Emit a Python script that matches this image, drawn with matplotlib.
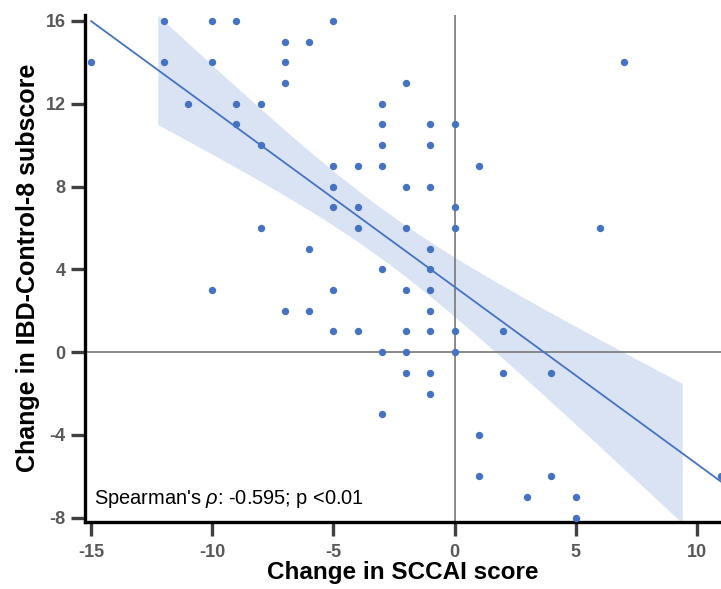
import numpy as np
import matplotlib.pyplot as plt

plt.rcParams['font.family'] = 'Liberation Sans'
plt.rcParams['mathtext.fontset'] = 'custom'
plt.rcParams['mathtext.it'] = 'Liberation Sans:italic'
plt.rcParams['axes.unicode_minus'] = False

# change in SCCAI score (x) and change in IBD-Control-8 subscore (y)
sccai = [-15, -12, -12, -11, -10, -10, -10, -9, -9, -9, -8, -8, -8,
         -7, -7, -7, -7, -6, -6, -6, -5, -5, -5, -5, -5, -5,
         -4, -4, -4, -4, -3, -3, -3, -3, -3, -3, -3,
         -2, -2, -2, -2, -2, -2, -2,
         -1, -1, -1, -1, -1, -1, -1, -1, -1, -1,
         0, 0, 0, 0, 0, 1, 1, 1, 2, 2, 3, 4, 4, 5, 5, 6, 7, 11]
ibd = [14, 16, 14, 12, 16, 14, 3, 16, 12, 11, 12, 10, 6,
       15, 14, 13, 2, 15, 5, 2, 16, 9, 8, 7, 3, 1,
       9, 7, 6, 1, 12, 11, 10, 9, 4, 0, -3,
       13, 8, 6, 3, 1, 0, -1,
       11, 10, 8, 5, 4, 3, 2, 1, -1, -2,
       11, 7, 6, 1, 0, 9, -4, -6, 1, -1, -7, -1, -6, -7, -8, 6, 14, -6]

band_range = (-12.25, 9.4)
t_crit = 1.994
blue = '#4472c4'

x = np.array(sccai, dtype=float)
y = np.array(ibd, dtype=float)
slope, intercept = np.polyfit(x, y, 1)
n = len(x)
resid = y - (slope * x + intercept)
s = np.sqrt(np.sum(resid ** 2) / (n - 2))
sxx = np.sum((x - x.mean()) ** 2)

fig = plt.figure(figsize=(7.21, 5.89), dpi=100)
ax = fig.add_axes([0.118, 0.114, 0.882, 0.861])

xb = np.linspace(band_range[0], band_range[1], 100)
half = t_crit * s * np.sqrt(1 / n + (xb - x.mean()) ** 2 / sxx)
ax.fill_between(xb, slope * xb + intercept - half, slope * xb + intercept + half,
                color='#dae3f3', lw=0, zorder=1)

ax.axhline(0, color='#808080', lw=1.3, zorder=2)
ax.axvline(0, color='#808080', lw=1.3, zorder=2)

xl = np.array([x.min(), x.max()])
ax.plot(xl, slope * xl + intercept, color=blue, lw=1.3, zorder=3)
ax.scatter(x, y, s=28, color=blue, lw=0, zorder=4, clip_on=False)

ax.set_xlim(-15.25, 11)
ax.set_ylim(-8.2, 16.3)
ax.set_xticks([-15, -10, -5, 0, 5, 10])
ax.set_yticks([-8, -4, 0, 4, 8, 12, 16])

for side in ['top', 'right']:
    ax.spines[side].set_visible(False)
for side in ['left', 'bottom']:
    ax.spines[side].set_linewidth(2.4)
    ax.spines[side].set_color('#000000')
ax.tick_params(direction='out', length=10, width=2.4, color='#404040',
               labelsize=13, labelcolor='#595959', pad=4)
ax.tick_params(axis='x', pad=6)
for lab in ax.get_xticklabels() + ax.get_yticklabels():
    lab.set_fontweight('bold')

ax.set_xlabel('Change in SCCAI score', fontsize=17.5, fontweight='bold', labelpad=0)
ax.set_ylabel('Change in IBD-Control-8 subscore', fontsize=18, fontweight='bold', labelpad=4)

ax.text(-14.9, -7.1, "Spearman's $\\rho$: -0.595; p <0.01", fontsize=14.4,
        va='center', ha='left', zorder=5)

fig.savefig('out.png', dpi=100)
